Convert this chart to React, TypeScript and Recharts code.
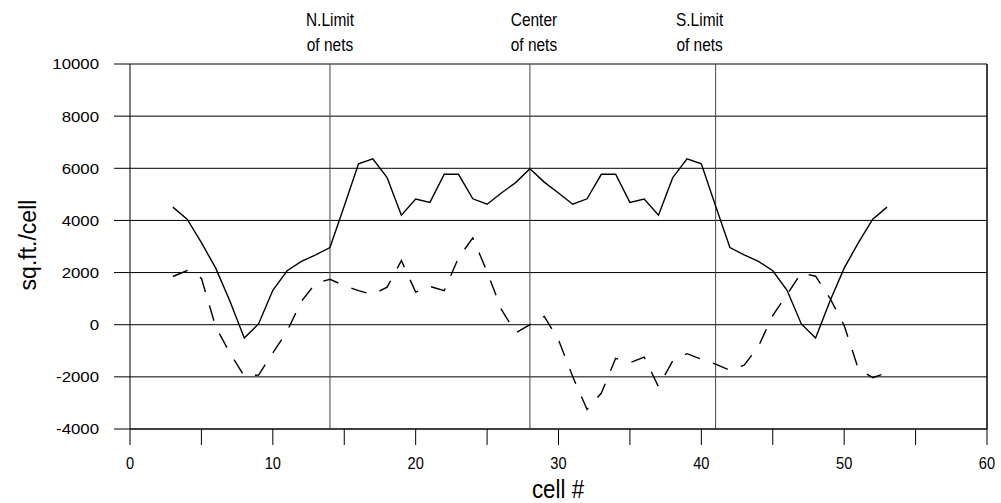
import React from "react";
import { LineChart, Line, XAxis, YAxis, CartesianGrid, ReferenceLine } from "recharts";

// cell numbers along the beach profile
const cells = [
  3, 4, 5, 6, 7, 8, 9, 10, 11, 12, 13, 14, 15, 16, 17, 18, 19, 20, 21, 22, 23, 24, 25, 26, 27, 28,
  29, 30, 31, 32, 33, 34, 35, 36, 37, 38, 39, 40, 41, 42, 43, 44, 45, 46, 47, 48, 49, 50, 51, 52, 53,
];

// solid curve
const totalArea = [
  4510, 4050, 3150, 2170, 900, -510, 30, 1320, 2070, 2430, 2680, 2960, 4550, 6170, 6360, 5640, 4200,
  4820, 4690, 5770, 5770, 4830, 4620, 5050, 5450, 5980, 5470, 5050, 4620, 4830, 5770, 5770, 4690, 4820,
  4200, 5640, 6360, 6170, 4550, 2960, 2680, 2430, 2070, 1320, 30, -510, 900, 2170, 3150, 4050, 4510,
];

// dashed curve
const netChange = [
  1850, 2080, 1780, -80, -1090, -1970, -1930, -1080, -250, 900, 1590, 1740, 1500, 1310, 1150, 1440,
  2460, 1250, 1470, 1310, 2570, 3330, 2030, 590, -310, 0, 320, -580, -2000, -3250, -2620, -1290, -1460,
  -1240, -2380, -1380, -1110, -1320, -1510, -1750, -1550, -830, 350, 1160, 1990, 1860, 1020, -30, -1710,
  -2030, -1840,
];

const xTicks = [0, 5, 10, 15, 20, 25, 30, 35, 40, 45, 50, 55, 60];
const yTicks = [-4000, -2000, 0, 2000, 4000, 6000, 8000, 10000];

const netCells = [14, 28, 41];
const netTitles = ["N.Limit", "Center", "S.Limit"];
const netSubtitle = "of nets";

const data = cells.map((cell, i) => ({ cell, total: totalArea[i], change: netChange[i] }));

const FONT = "'Liberation Sans', Arial, Helvetica, sans-serif";
const WIDE = "scale(1.12,1)";
const NARROW = "scale(0.86,1)";

const YTick = ({ x, y, payload }: any) => (
  <g transform={`translate(${x},${y})`}>
    <text transform={WIDE} textAnchor="end" dy="0.36em" fontSize={15} fontFamily={FONT} fill="#000">
      {payload.value}
    </text>
  </g>
);

const XTick = ({ x, y, payload }: any) => {
  if (payload.value % 10 !== 0) return <g />;
  return (
    <g transform={`translate(${x},${y})`}>
      <text transform={NARROW} textAnchor="middle" dy="0.71em" fontSize={17} fontFamily={FONT} fill="#000">
        {payload.value}
      </text>
    </g>
  );
};

// small nudges so the two-line captions sit where they were typeset
const captionShift: Record<number, number> = { 14: 0, 28: 4, 41: -16 };

const netCaption = (title: string, cell: number) => (props: any) => {
  const vb = props.viewBox || {};
  const cx = (vb.x ?? 0) + (captionShift[cell] || 0);
  const top = vb.y ?? 64;
  return (
    <g transform={`translate(${cx},${top}) ${NARROW}`}>
      <text x={0} y={-38} textAnchor="middle" fontSize={18} fontFamily={FONT} fill="#000">
        {title}
      </text>
      <text x={0} y={-13} textAnchor="middle" fontSize={18} fontFamily={FONT} fill="#000">
        {netSubtitle}
      </text>
    </g>
  );
};

export default function App() {
  return (
    <div style={{ position: "absolute", left: 0, top: 0, width: 1001, height: 503, background: "#fff" }}>
      <LineChart width={1001} height={503} data={data} margin={{ top: 64, right: 14, left: 0, bottom: 0 }}>
        <CartesianGrid vertical={false} stroke="#000" />
        <XAxis
          type="number"
          dataKey="cell"
          domain={[0, 60]}
          ticks={xTicks}
          interval={0}
          height={74}
          tickSize={16}
          tickMargin={12}
          tick={<XTick />}
          axisLine={{ stroke: "#000" }}
          tickLine={{ stroke: "#000" }}
          label={{
            content: () => (
              <g transform={`translate(558,498) ${NARROW}`}>
                <text x={0} y={0} textAnchor="middle" fontSize={26} fontFamily={FONT} fill="#000">
                  cell #
                </text>
              </g>
            ),
          }}
        />
        <YAxis
          type="number"
          domain={[-4000, 10000]}
          ticks={yTicks}
          interval={0}
          width={130}
          tickSize={16}
          tickMargin={15}
          tick={<YTick />}
          axisLine={{ stroke: "#000" }}
          tickLine={{ stroke: "#000" }}
          label={{
            content: () => (
              <text
                x={0}
                y={0}
                transform="translate(36,245) rotate(-90)"
                textAnchor="middle"
                fontSize={23}
                fontFamily={FONT}
                fill="#000"
              >
                sq.ft./cell
              </text>
            ),
          }}
        />
        <ReferenceLine x={60} stroke="#000" strokeWidth={1.5} />
        {netCells.map((c, i) => (
          <ReferenceLine
            key={c}
            x={c}
            stroke="#444"
            strokeWidth={1}
            label={{ content: netCaption(netTitles[i], c) }}
          />
        ))}
        <Line
          type="linear"
          dataKey="total"
          stroke="#000"
          strokeWidth={1.4}
          dot={false}
          isAnimationActive={false}
        />
        <Line
          type="linear"
          dataKey="change"
          stroke="#000"
          strokeWidth={1.4}
          strokeDasharray="16 14"
          dot={false}
          isAnimationActive={false}
        />
      </LineChart>
    </div>
  );
}
